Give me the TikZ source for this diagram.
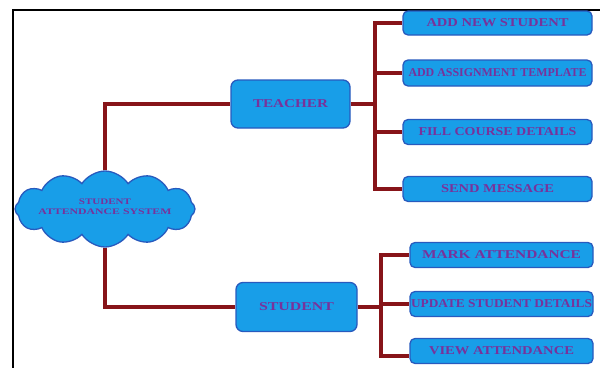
\documentclass[tikz,border=0pt]{standalone}
\usepackage{fontspec}
\setmainfont{Liberation Serif}
\usetikzlibrary{shapes.symbols}
\definecolor{boxfill}{RGB}{24,158,232}
\definecolor{boxdraw}{RGB}{40,90,190}
\definecolor{txt}{RGB}{120,50,155}
\definecolor{wire}{RGB}{135,20,25}
\newcommand{\fitw}[2]{\resizebox{#1}{\height}{#2}}
\tikzset{
  box/.style={draw=boxdraw, fill=boxfill, line width=1.3pt, rounded corners=5pt,
    inner sep=0pt, text=txt, font=\bfseries\fontsize{12}{12}\selectfont},
  mainbox/.style={box, rounded corners=7pt},
  wireline/.style={draw=wire, line width=3.2pt},
  cloudshape/.style={cloud, cloud puffs=12, cloud puff arc=115, aspect=2.5,
    draw=boxdraw, fill=boxfill, line width=1.3pt, inner sep=0pt},
  cloudtext/.style={text=txt, font=\bfseries\fontsize{8.5}{10}\selectfont, align=center}
}
\begin{document}
\begin{tikzpicture}[x=1pt,y=-1pt]
\useasboundingbox (0,0) rectangle (600,367);
\clip (0,0) rectangle (600,367);
% frame
\draw[line width=1.4pt] (13,370) -- (13,10) -- (605,10);

% cloud
\node[cloudshape, minimum width=180pt, minimum height=76pt] (sys) at (105,209) {};
\node[cloudtext] (systxt) at (105,207) {\fitw{52pt}{STUDENT}\\[0pt]\fitw{133pt}{ATTENDANCE SYSTEM}};

% main boxes
\node[mainbox, minimum width=119pt, minimum height=48pt] (teacher) at (290.5,104) {\fitw{75pt}{TEACHER}};
\node[mainbox, minimum width=121pt, minimum height=49pt] (student) at (296.5,307) {\fitw{75pt}{STUDENT}};

% teacher items
\node[box, minimum width=189pt, minimum height=24pt] (t1) at (497.5,23) {\fitw{142pt}{ADD NEW STUDENT}};
\node[box, minimum width=189pt, minimum height=26pt] (t2) at (497.5,73) {\fitw{178pt}{ADD ASSIGNMENT TEMPLATE}};
\node[box, minimum width=189pt, minimum height=25pt] (t3) at (497.5,132) {\fitw{158pt}{FILL COURSE DETAILS}};
\node[box, minimum width=189pt, minimum height=25pt] (t4) at (497.5,189) {\fitw{113pt}{SEND MESSAGE}};

% student items
\node[box, minimum width=183pt, minimum height=25pt] (s1) at (501.5,255) {\fitw{159pt}{MARK ATTENDANCE}};
\node[box, minimum width=183pt, minimum height=25pt] (s2) at (501.5,304) {\fitw{181pt}{UPDATE STUDENT DETAILS}};
\node[box, minimum width=183pt, minimum height=25pt] (s3) at (501.5,351) {\fitw{145pt}{VIEW ATTENDANCE}};

% buses
\coordinate (tbus) at (375,104);
\coordinate (sbus) at (381,307);

% connectors
\draw[wireline] (sys.north) |- (teacher.west);
\draw[wireline] (sys.south) |- (student.west);
\draw[wireline] (teacher.east) -- (tbus);
\draw[wireline] (student.east) -- (sbus);
\draw[wireline] (tbus) |- (t1.west);
\draw[wireline] (tbus) |- (t2.west);
\draw[wireline] (tbus) |- (t3.west);
\draw[wireline] (tbus) |- (t4.west);
\draw[wireline] (sbus) |- (s1.west);
\draw[wireline] (sbus) |- (s2.west);
\draw[wireline] (sbus) |- ([yshift=-5pt]s3.west);
\end{tikzpicture}
\end{document}
